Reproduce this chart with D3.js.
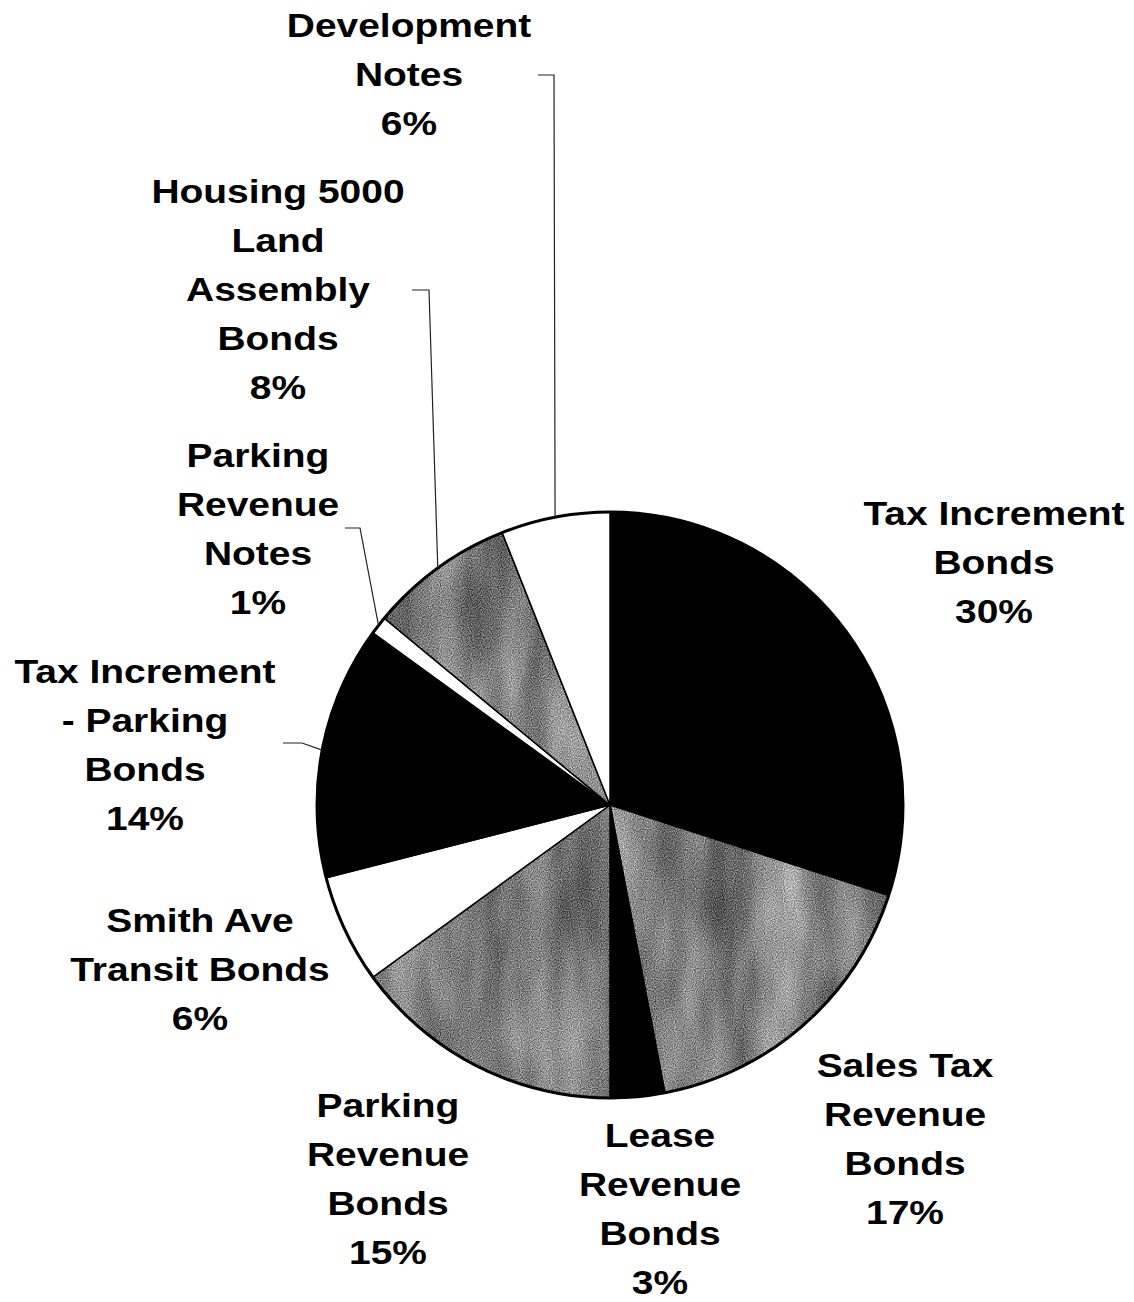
<!DOCTYPE html>
<html>
<head>
<meta charset="utf-8">
<script src="https://cdn.jsdelivr.net/npm/d3@7"></script>
<style>
  html, body { margin: 0; padding: 0; background: #fff; }
  #chart { width: 1134px; height: 1302px; }
  text { font-family: "Liberation Sans", Arial, sans-serif; font-weight: bold; }
</style>
</head>
<body>
<div id="chart"></div>
<script>
// slices, clockwise from 12 o'clock
const names = [
  "Tax Increment Bonds", "Sales Tax Revenue Bonds", "Lease Revenue Bonds",
  "Parking Revenue Bonds", "Smith Ave Transit Bonds", "Tax Increment - Parking Bonds",
  "Parking Revenue Notes", "Housing 5000 Land Assembly Bonds", "Development Notes"
];
const values = [30, 17, 3, 15, 6, 14, 1, 8, 6];
const fills = ["black", "grain", "black", "grain", "white", "black", "white", "grain", "white"];

// how each label breaks into lines (percent line is added from values)
const labelLines = [
  ["Tax Increment", "Bonds"],
  ["Sales Tax", "Revenue", "Bonds"],
  ["Lease", "Revenue", "Bonds"],
  ["Parking", "Revenue", "Bonds"],
  ["Smith Ave", "Transit Bonds"],
  ["Tax Increment", "- Parking", "Bonds"],
  ["Parking", "Revenue", "Notes"],
  ["Housing 5000", "Land", "Assembly", "Bonds"],
  ["Development", "Notes"]
];
const labelX = [994, 905, 660, 388, 200, 145, 258, 278, 409];
const labelY = [525, 1077, 1147, 1117, 932, 683, 467, 203, 37];

// leader lines: [slice index, elbow x, label-side x, y]
const leaders = [
  [8, 554, 538, 75],
  [7, 429, 412, 290],
  [6, 360, 345, 528],
  [5, 302, 283, 743]
];

const W = 1134, H = 1302;
const cx = 610, cy = 805, r = 293;
const fontSize = 33, lineH = 49, stretch = 1.18;

const svg = d3.select("#chart").append("svg")
  .attr("width", W).attr("height", H)
  .attr("viewBox", [0, 0, W, H])
  .style("display", "block");

// mottled scan-like gray
const defs = svg.append("defs");
const f = defs.append("filter").attr("id", "noise")
  .attr("filterUnits", "userSpaceOnUse")
  .attr("x", 0).attr("y", 0).attr("width", W).attr("height", H)
  .attr("color-interpolation-filters", "sRGB");
f.append("feTurbulence").attr("type", "fractalNoise")
  .attr("baseFrequency", "0.02 0.006").attr("numOctaves", 3).attr("seed", 4).attr("result", "coarse");
f.append("feColorMatrix").attr("in", "coarse").attr("type", "matrix")
  .attr("values", "0.6 0 0 0 0.0  0.6 0 0 0 0.0  0.6 0 0 0 0.0  0 0 0 0 1").attr("result", "c2");
f.append("feTurbulence").attr("type", "fractalNoise")
  .attr("baseFrequency", 0.9).attr("numOctaves", 1).attr("seed", 9).attr("result", "fine");
f.append("feColorMatrix").attr("in", "fine").attr("type", "matrix")
  .attr("values", "1 0 0 0 0  1 0 0 0 0  1 0 0 0 0  0 0 0 0 1").attr("result", "f2");
f.append("feComposite").attr("in", "c2").attr("in2", "f2").attr("operator", "arithmetic")
  .attr("k1", 0).attr("k2", 1).attr("k3", 0.9).attr("k4", -0.25);

const pat = defs.append("pattern").attr("id", "grain")
  .attr("patternUnits", "userSpaceOnUse")
  .attr("x", 0).attr("y", 0).attr("width", W).attr("height", H);
pat.append("rect").attr("width", W).attr("height", H).attr("fill", "#888").attr("filter", "url(#noise)");

const pie = d3.pie().sort(null).value(d => d)(values);
const arc = d3.arc().innerRadius(0).outerRadius(r);

const g = svg.append("g").attr("transform", `translate(${cx},${cy})`);

g.selectAll("path.slice")
  .data(pie)
  .join("path")
  .attr("class", "slice")
  .attr("d", arc)
  .attr("fill", (d, i) => fills[i] === "grain" ? "url(#grain)" : fills[i])
  .attr("stroke", "#000")
  .attr("stroke-width", 1.5)
  .attr("stroke-linejoin", "round");

g.append("circle").attr("r", r).attr("fill", "none")
  .attr("stroke", "#000").attr("stroke-width", 3);

// leader lines
const edgePoint = d => {
  const a = (d.startAngle + d.endAngle) / 2;
  return [cx + r * Math.sin(a), cy - r * Math.cos(a)];
};
svg.append("g").selectAll("polyline")
  .data(leaders)
  .join("polyline")
  .attr("points", ([i, ex, lx, y]) => {
    const [px, py] = edgePoint(pie[i]);
    return [[lx, y], [ex, y], [px, py]].map(p => p.join(",")).join(" ");
  })
  .attr("fill", "none")
  .attr("stroke", "#222")
  .attr("stroke-width", 1.2);

// labels
const labels = svg.append("g");
names.forEach((name, i) => {
  const lines = labelLines[i].concat([values[i] + "%"]);
  const t = labels.append("text")
    .attr("transform", `translate(${labelX[i]},${labelY[i]}) scale(${stretch},1)`)
    .attr("text-anchor", "middle")
    .attr("font-size", fontSize)
    .attr("fill", "#000");
  lines.forEach((s, j) => {
    t.append("tspan").attr("x", 0).attr("y", j * lineH).text(s);
  });
});
</script>
</body>
</html>
